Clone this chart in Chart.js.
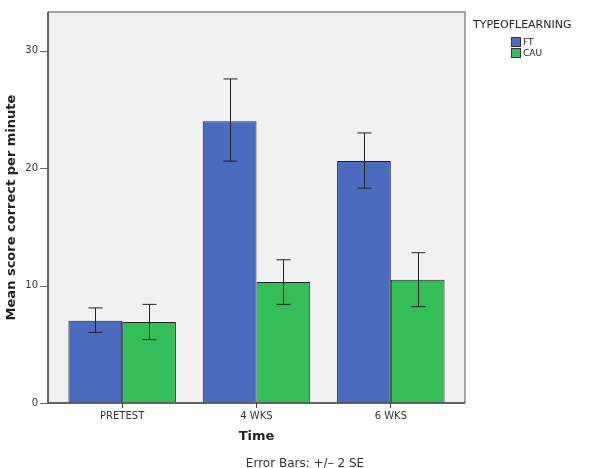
<!DOCTYPE html>
<html>
<head>
<meta charset="utf-8">
<script src="https://cdn.jsdelivr.net/npm/chart.js@4"></script>
<style>
  html, body { margin: 0; padding: 0; background: #fff; }
  #wrap { width: 589px; height: 468px; }
</style>
</head>
<body>
<div id="wrap"><canvas id="grafik" width="589" height="468"></canvas></div>
<script>
// data
const categories = ['PRETEST', '4 WKS', '6 WKS'];
const ftMean = [7.0, 24.0, 20.6];
const ftLow = [6.0, 20.6, 18.3];
const ftHigh = [8.1, 27.6, 23.0];
const cauMean = [6.9, 10.3, 10.5];
const cauLow = [5.4, 8.4, 8.2];
const cauHigh = [8.4, 12.2, 12.8];
const yTicks = [0, 10, 20, 30];

const FONT = '"DejaVu Sans", sans-serif';
const INSET = 7; // frame sits a bit outside the bar area

// frame + background of plot area
const frame = {
    id: 'frame',
    beforeDatasetsDraw(chart) {
        const { ctx, chartArea: a } = chart;
        const l = a.left - INSET, r = a.right + INSET;
        ctx.save();
        ctx.fillStyle = '#f1f1f1';
        ctx.fillRect(l, a.top, r - l, a.bottom - a.top);
        ctx.strokeStyle = '#8c8c8c';
        ctx.lineWidth = 1.5;
        ctx.beginPath();
        ctx.moveTo(l, a.top);
        ctx.lineTo(r, a.top);
        ctx.lineTo(r, a.bottom);
        ctx.stroke();
        ctx.restore();
    },
    afterDatasetsDraw(chart) {
        const { ctx, chartArea: a } = chart;
        const l = a.left - INSET, r = a.right + INSET;
        const y = chart.scales.y;
        ctx.save();
        ctx.strokeStyle = '#333';
        ctx.lineWidth = 1.5;
        ctx.beginPath();
        ctx.moveTo(l, a.top);
        ctx.lineTo(l, a.bottom);
        ctx.lineTo(r, a.bottom);
        ctx.stroke();
        ctx.strokeStyle = '#666';
        ctx.lineWidth = 1;
        ctx.beginPath();
        yTicks.forEach(v => {
            const py = Math.round(y.getPixelForValue(v)) + 0.5;
            ctx.moveTo(l - 8, py);
            ctx.lineTo(l, py);
        });
        ctx.stroke();
        ctx.restore();
    }
};

// error bars + legend + footer
const extras = {
    id: 'extras',
    afterDatasetsDraw(chart) {
        const { ctx } = chart;
        const y = chart.scales.y;
        const lows = [ftLow, cauLow];
        const highs = [ftHigh, cauHigh];
        ctx.save();
        ctx.strokeStyle = '#222';
        ctx.lineWidth = 1;
        chart.data.datasets.forEach((ds, i) => {
            chart.getDatasetMeta(i).data.forEach((bar, j) => {
                const x = Math.round(bar.x) + 0.5;
                const y1 = y.getPixelForValue(lows[i][j]);
                const y2 = y.getPixelForValue(highs[i][j]);
                ctx.beginPath();
                ctx.moveTo(x, y1); ctx.lineTo(x, y2);
                ctx.moveTo(x - 7, y1); ctx.lineTo(x + 7, y1);
                ctx.moveTo(x - 7, y2); ctx.lineTo(x + 7, y2);
                ctx.stroke();
            });
        });
        ctx.restore();
    },
    afterDraw(chart) {
        const { ctx } = chart;
        ctx.save();
        ctx.fillStyle = '#222';
        ctx.textBaseline = 'middle';
        ctx.font = '11px ' + FONT;
        ctx.fillText('TYPEOFLEARNING', 473, 25);
        ctx.font = '9px ' + FONT;
        chart.data.datasets.forEach((ds, i) => {
            const yy = 37 + i * 11;
            ctx.fillStyle = ds.backgroundColor;
            ctx.fillRect(511, yy, 10, 10);
            ctx.strokeStyle = '#333';
            ctx.strokeRect(511.5, yy + 0.5, 9, 9);
            ctx.fillStyle = '#222';
            ctx.fillText(ds.label, 523, yy + 5.5);
        });
        ctx.font = '12px ' + FONT;
        ctx.textAlign = 'center';
        ctx.textBaseline = 'top';
        ctx.fillStyle = '#333';
        ctx.fillText('Error Bars: +/\u2013 2 SE', 305, 458);
        ctx.restore();
    }
};

new Chart(document.getElementById('grafik'), {
    type: 'bar',
    data: {
        labels: categories,
        datasets: [
            { label: 'FT', data: ftMean, backgroundColor: 'rgb(75,108,190)', borderColor: '#222', borderWidth: 1 },
            { label: 'CAU', data: cauMean, backgroundColor: 'rgb(52,190,90)', borderColor: '#222', borderWidth: 1 }
        ]
    },
    options: {
        responsive: false,
        animation: false,
        layout: { padding: { left: 0, right: 131, top: 12, bottom: 22 } },
        plugins: { legend: { display: false }, tooltip: { enabled: false } },
        datasets: { bar: { categoryPercentage: 0.8, barPercentage: 1 } },
        scales: {
            x: {
                grid: { display: true, offset: false, drawOnChartArea: false, drawTicks: true, tickLength: 5, color: '#444' },
                border: { display: false },
                ticks: { color: '#333', font: { family: FONT, size: 10 }, padding: 2 },
                title: { display: true, text: 'Time', color: '#222', font: { family: FONT, size: 13, weight: 'bold' }, padding: { top: 0, bottom: 2 } },
                afterFit(s) { s.height = 43; }
            },
            y: {
                min: 0,
                max: 33.3,
                afterBuildTicks(s) { s.ticks = yTicks.map(v => ({ value: v })); },
                grid: { display: true, drawOnChartArea: false, drawTicks: true, tickLength: 15, color: 'rgba(0,0,0,0)' },
                border: { display: false },
                ticks: { color: '#333', font: { family: FONT, size: 10 }, padding: 2 },
                title: { display: true, text: 'Mean score correct per minute', color: '#222', font: { family: FONT, size: 13, weight: 'bold' }, padding: { top: 4, bottom: 0 } },
                afterFit(s) { s.width = 55; }
            }
        }
    },
    plugins: [frame, extras]
});
</script>
</body>
</html>
